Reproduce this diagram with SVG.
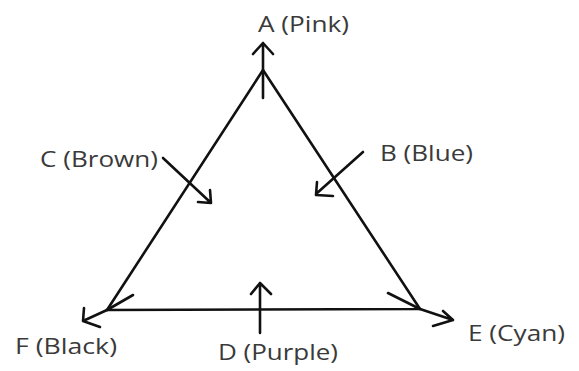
<svg xmlns="http://www.w3.org/2000/svg" width="579" height="371" viewBox="0 0 579 371">
<style>
.ln{stroke:#111;stroke-width:2.6;fill:none;stroke-linecap:round;stroke-linejoin:round}
.lb{font-family:"Open Sans","Liberation Sans",sans-serif;font-size:22px;fill:#3a3a3a}
</style>
<rect width="579" height="371" fill="#fff"/>
<g id="triangle">
<path class="ln" d="M263,70 L107,310 L420,309 Z"/>
<path class="ln" d="M107,310 L133,295 M420,309 L388,293"/>
</g>
<g id="connectors">
<path class="ln" d="M263,98 L263,43 M253,54 L263,43 L273,54"/>
<path class="ln" d="M163,158 L210,202 M198,202 L211,203 L210,190"/>
<path class="ln" d="M363,152 L316,194 M317,182 L316,195 L333,196"/>
<path class="ln" d="M260,333 L260,283 M251,294 L260,283 L271,294"/>
<path class="ln" d="M420,309 L453,320 M443,311 L453,320 L433,326"/>
<path class="ln" d="M107,310 L83,321 M84,308 L83,321 L100,327"/>
</g>
<g id="node-A"><text class="lb" x="258" y="32" textLength="91" lengthAdjust="spacingAndGlyphs">A (Pink)</text></g>
<g id="node-B"><text class="lb" x="380" y="161" textLength="93" lengthAdjust="spacingAndGlyphs">B (Blue)</text></g>
<g id="node-C"><text class="lb" x="40" y="167" textLength="118" lengthAdjust="spacingAndGlyphs">C (Brown)</text></g>
<g id="node-D"><text class="lb" x="218" y="360" textLength="120" lengthAdjust="spacingAndGlyphs">D (Purple)</text></g>
<g id="node-E"><text class="lb" x="468" y="341" textLength="97" lengthAdjust="spacingAndGlyphs">E (Cyan)</text></g>
<g id="node-F"><text class="lb" x="15" y="354" textLength="102" lengthAdjust="spacingAndGlyphs">F (Black)</text></g>
</svg>
